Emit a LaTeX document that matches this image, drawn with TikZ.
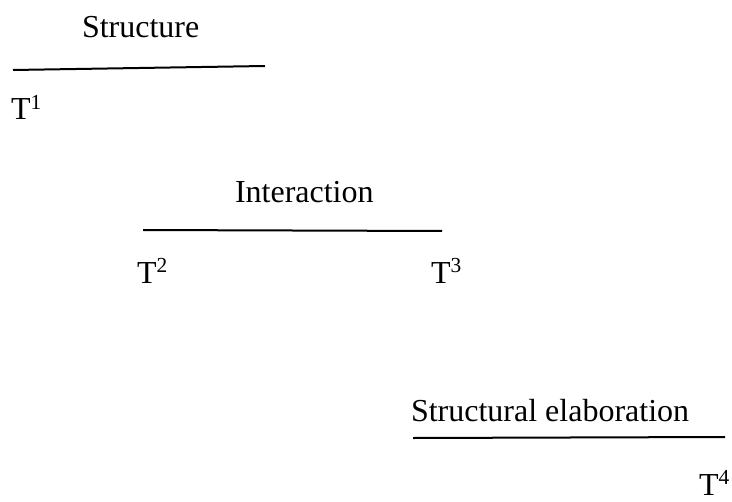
\documentclass[tikz,border=0pt]{standalone}
\usepackage{fontspec}
\setmainfont{Liberation Serif}
\newcommand{\Tsup}[1]{T\raisebox{0.33em}{\fontsize{10.7pt}{12pt}\selectfont #1}}
\begin{document}
\begin{tikzpicture}[x=0.5pt,y=-0.5pt,
  lbl/.style={inner sep=0pt,outer sep=0pt,anchor=base west,font=\fontsize{16pt}{19pt}\selectfont},
  bar/.style={line width=1pt}]
\useasboundingbox (0,0) rectangle (732,502);
\node[lbl] (s) at (82,38) {Structure};
\coordinate (l1a) at (13,70);
\coordinate (l1b) at (265,66);
\draw[bar] (l1a) -- (l1b);
\node[lbl] (t1) at (11,120) {\Tsup{1}};

\node[lbl] (i) at (235,202) {Interaction};
\coordinate (l2a) at (143,230);
\coordinate (l2b) at (442,231);
\draw[bar] (l2a) -- (l2b);
\node[lbl] (t2) at (137,283) {\Tsup{2}};
\node[lbl] (t3) at (431,283) {\Tsup{3}};

\node[lbl] (se) at (411,421) {Structural elaboration};
\coordinate (l3a) at (413,438);
\coordinate (l3b) at (725,437);
\draw[bar] (l3a) -- (l3b);
\node[lbl] (t4) at (699,495) {\Tsup{4}};
\end{tikzpicture}
\end{document}
